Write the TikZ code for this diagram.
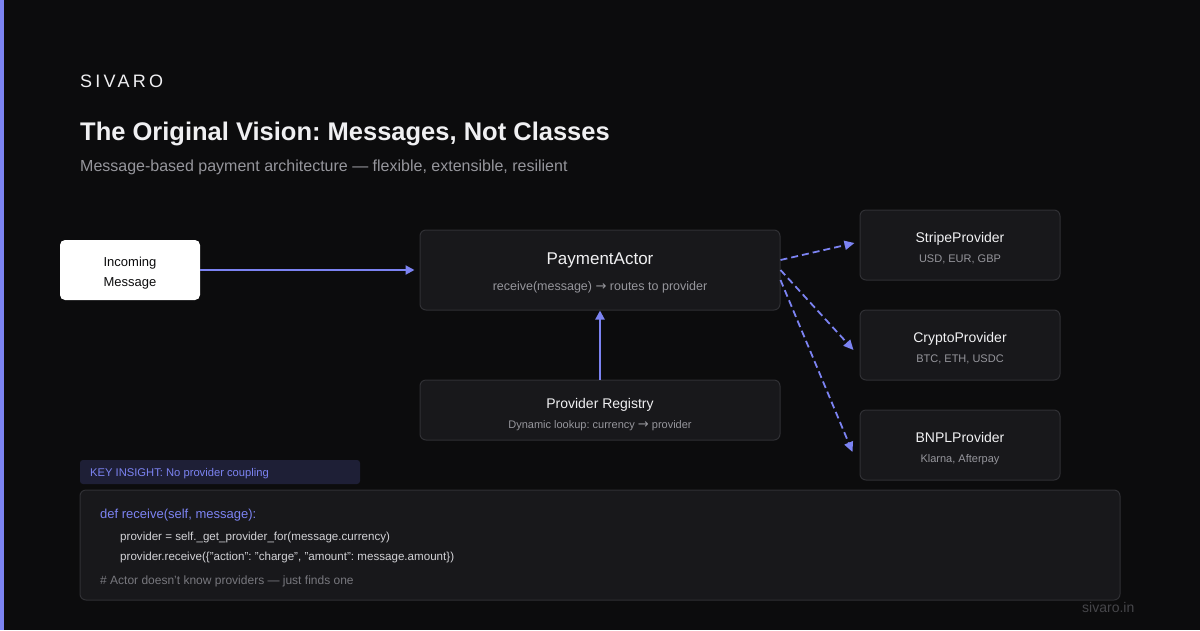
\documentclass[tikz,border=0pt]{standalone}
\usepackage{fontspec}
\setmainfont{Liberation Sans}
\newfontfamily\symfont{DejaVu Sans}
\newfontfamily\spacedfont[LetterSpace=18]{Liberation Sans}
\usetikzlibrary{arrows.meta,calc,positioning}
\frenchspacing

\definecolor{bgdark}{RGB}{12,12,13}
\definecolor{accent}{RGB}{124,131,242}
\definecolor{boxfill}{RGB}{24,24,27}
\definecolor{boxline}{RGB}{48,48,52}
\definecolor{tagfill}{RGB}{30,31,54}
\definecolor{textmain}{RGB}{240,240,242}
\definecolor{textsub}{RGB}{150,150,156}
\definecolor{textcode}{RGB}{210,210,214}
\definecolor{textdim}{RGB}{120,120,126}
\definecolor{textfoot}{RGB}{70,70,74}

\newcommand{\rarr}{{\symfont\fontsize{13}{14}\selectfont →}}

\tikzset{
  txt/.style={inner sep=0pt, anchor=base west},
  ctr/.style={inner sep=0pt, anchor=base},
  darkbox/.style={draw=boxline, fill=boxfill, line width=1pt, rounded corners=6pt, inner sep=0pt},
  boxtitle/.style={ctr, text=textmain, font=\fontsize{14}{16}\selectfont},
  boxsub/.style={ctr, text=textsub, font=\fontsize{11}{13}\selectfont},
  flow/.style={draw=accent, line width=2pt, -{Triangle[length=9pt,width=9pt]}},
  flowdash/.style={draw=accent, line width=1.8pt, dash pattern=on 7pt off 4pt, -{Triangle[length=10pt,width=9pt]}}
}

\begin{document}
\begin{tikzpicture}[x=1pt,y=-1pt]
  \fill[bgdark] (0,0) rectangle (1200,630);
  \fill[accent] (0,0) rectangle (4,630);
  \useasboundingbox (0,0) rectangle (1200,630);

  % header
  \node[txt, text=textmain, font=\spacedfont\fontsize{18}{20}\selectfont] (brand) at (80,87.5) {SIVARO};
  \node[txt, text=textmain, font=\fontsize{25.5}{30}\selectfont\bfseries] (title) at (80,140) {The Original Vision: Messages, Not Classes};
  \node[txt, text=textsub, font=\fontsize{16}{18}\selectfont] (subtitle) at (80,171.5) {Message-based payment architecture — flexible, extensible, resilient};

  % incoming message
  \node[fill=white, rounded corners=5pt, minimum width=140pt, minimum height=60pt, inner sep=0pt] (incoming) at (130,270) {};
  \node[ctr, text=bgdark, font=\fontsize{13}{15}\selectfont] (incomingA) at (130,266.5) {Incoming};
  \node[ctr, text=bgdark, font=\fontsize{13}{15}\selectfont] (incomingB) at (130,286.5) {Message};

  % actor and registry
  \node[darkbox, minimum width=360pt, minimum height=80pt] (actor) at (600,270) {};
  \node[ctr, text=textmain, font=\fontsize{17}{20}\selectfont] (actortitle) at (600,264) {PaymentActor};
  \node[ctr, text=textsub, font=\fontsize{12.5}{14}\selectfont] (actorsub) at (600,290.5) {receive(message) \rarr{} routes to provider};

  \node[darkbox, minimum width=360pt, minimum height=60pt] (registry) at (600,410) {};
  \node[boxtitle] (registrytitle) at (600,408) {Provider Registry};
  \node[boxsub] (registrysub) at (600,428) {Dynamic lookup: currency \rarr{} provider};

  % providers
  \foreach \name/\label/\sub/\y in {stripe/StripeProvider/{USD, EUR, GBP}/245,
                                    crypto/CryptoProvider/{BTC, ETH, USDC}/345,
                                    bnpl/BNPLProvider/{Klarna, Afterpay}/445} {
    \node[darkbox, minimum width=200pt, minimum height=70pt] (\name) at (960,\y) {};
    \node[boxtitle] (\name title) at (960,\y-3) {\label};
    \node[boxsub] (\name sub) at (960,\y+17) {\sub};
  }

  % connectors
  \draw[flow, shorten >=5pt] (incoming.east) -- (actor.west);
  \draw[flow] (registry.north) -- (actor.south);
  \draw[flowdash] ($(actor.east)+(0,-10)$) -- ($(stripe.west)+(-5,-2)$);
  \draw[flowdash] (actor.east) -- ($(crypto.west)+(-6,5)$);
  \draw[flowdash] ($(actor.east)+(0,10)$) -- ($(bnpl.west)+(-7,7)$);

  % key insight and code
  \node[fill=tagfill, rounded corners=3pt, minimum width=280pt, minimum height=24pt, inner sep=0pt] (tag) at (220,472) {};
  \node[txt, text=accent, font=\fontsize{11.2}{13}\selectfont] (tagtext) at (90,476) {KEY INSIGHT: No provider coupling};

  \node[darkbox, minimum width=1040pt, minimum height=110pt] (code) at (600,545) {};
  \node[txt, text=accent, font=\fontsize{13}{15}\selectfont] (codeA) at (100,518.5) {def receive(self, message):};
  \node[txt, text=textcode, font=\fontsize{11.6}{13}\selectfont] (codeB) at (120,540) {provider = self.\_get\_provider\_for(message.currency)};
  \node[txt, text=textcode, font=\fontsize{11.6}{13}\selectfont] (codeC) at (120,560) {provider.receive(\{"action": "charge", "amount": message.amount\})};
  \node[txt, text=textdim, font=\fontsize{12}{14}\selectfont] (codeD) at (100,584) {\# Actor doesn't know providers — just finds one};

  \node[txt, text=textfoot, font=\fontsize{14}{16}\selectfont] (footer) at (1082,612) {sivaro.in};
\end{tikzpicture}
\end{document}
